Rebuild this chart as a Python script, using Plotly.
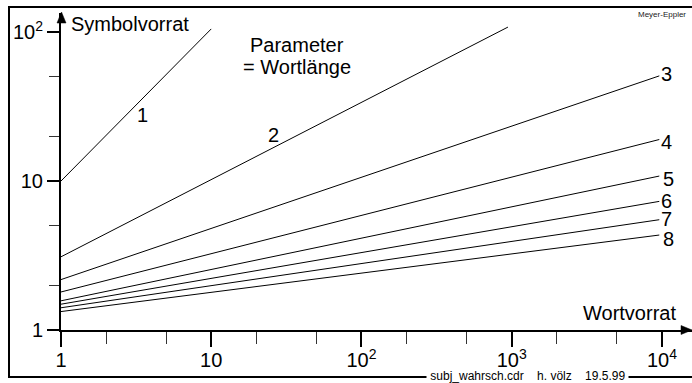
import math
import plotly.graph_objects as go

# ---- data ----
line_names = ["1", "2", "3", "4", "5", "6", "7", "8"]
wort_start = [1, 1, 1, 1, 1, 1, 1, 1]
wort_end = [10, 944, 9600, 9600, 9600, 9600, 9600, 9600]
symb_start = [10, 3.1, 2.18, 1.80, 1.57, 1.49, 1.41, 1.33]
symb_end = [105, 108, 50.8, 19.0, 10.8, 7.3, 5.5, 4.34]

# label anchor points for curve labels (data coords)
label_x = [3.5, 25.8, 10800, 10800, 11000, 10800, 10800, 11000]
label_y = [27.8, 20.4, 52.5, 18.4, 10.4, 7.33, 5.55, 4.11]

x_tickvals = [1, 10, 100, 1000, 10000]
x_ticktext = ["1", "10", "10<sup>2</sup>", "10<sup>3</sup>", "10<sup>4</sup>"]
y_tickvals = [1, 10, 100]
y_ticktext = ["1", "10", "10<sup>2</sup>"]
minor_vals = [2, 5, 20, 50, 200, 500, 2000, 5000]

FONT = "Arial, Liberation Sans, Helvetica, sans-serif"
W, H = 692, 383
L, R, T, B = 61, 0, 13, 53
PW, PH = W - L - R, H - T - B


def px(x):
    return (x - L) / PW


def py(y):
    return (H - B - y) / PH


fig = go.Figure()
for i in range(len(line_names)):
    fig.add_trace(go.Scatter(
        x=[wort_start[i], wort_end[i]], y=[symb_start[i], symb_end[i]],
        mode="lines", line=dict(color="black", width=1),
        showlegend=False, hoverinfo="skip", cliponaxis=False))

annotations = []
for i, n in enumerate(line_names):
    annotations.append(dict(x=math.log10(label_x[i]), y=math.log10(label_y[i]),
                            xref="x", yref="y", text=n, showarrow=False,
                            font=dict(family=FONT, size=20, color="black"),
                            xanchor="center", yanchor="middle"))

annotations += [
    dict(x=px(69), y=py(24), xref="paper", yref="paper", text="Symbolvorrat",
         showarrow=False, xanchor="left", yanchor="middle",
         font=dict(family=FONT, size=20, color="black")),
    dict(x=px(678), y=py(313), xref="paper", yref="paper", text="Wortvorrat",
         showarrow=False, xanchor="right", yanchor="middle",
         font=dict(family=FONT, size=20, color="black")),
    dict(x=px(297), y=py(45), xref="paper", yref="paper", text="Parameter",
         showarrow=False, xanchor="center", yanchor="middle",
         font=dict(family=FONT, size=20, color="black")),
    dict(x=px(297), y=py(67), xref="paper", yref="paper", text="= Wortlänge",
         showarrow=False, xanchor="center", yanchor="middle",
         font=dict(family=FONT, size=20, color="black")),
    dict(x=px(688), y=py(15), xref="paper", yref="paper", text="Meyer-Eppler",
         showarrow=False, xanchor="right", yanchor="middle",
         font=dict(family=FONT, size=8, color="#222")),
    dict(x=px(527), y=py(376), xref="paper", yref="paper",
         text="\u00a0subj_wahrsch.cdr\u00a0\u00a0\u00a0\u00a0h.\u00a0völz\u00a0\u00a0\u00a0\u00a019.5.99\u00a0",
         showarrow=False, xanchor="center", yanchor="middle", bgcolor="white",
         borderpad=0,
         font=dict(family=FONT, size=12, color="black")),
]

shapes = [
    # outer frame (right edge lies outside the picture)
    dict(type="rect", xref="paper", yref="paper", x0=px(9), x1=px(705),
         y0=py(377), y1=py(7), line=dict(color="black", width=2), layer="below"),
    # arrow heads
    dict(type="path", xref="paper", yref="paper",
         path=f"M {px(61.5)} {py(12)} L {px(57)} {py(23)} L {px(66)} {py(23)} Z",
         fillcolor="black", line=dict(color="black", width=0.5)),
    dict(type="path", xref="paper", yref="paper",
         path=f"M {px(692)} {py(330)} L {px(681)} {py(325.5)} L {px(681)} {py(334.5)} Z",
         fillcolor="black", line=dict(color="black", width=0.5)),
]

fig.update_layout(
    width=W, height=H,
    margin=dict(l=L, r=R, t=T, b=B),
    paper_bgcolor="white", plot_bgcolor="white",
    annotations=annotations, shapes=shapes,
    font=dict(family=FONT, size=20, color="black"),
    xaxis=dict(type="log", range=[0, 4.2], showgrid=False, zeroline=False,
               showline=True, linecolor="black", linewidth=2,
               tickmode="array", tickvals=x_tickvals, ticktext=x_ticktext,
               ticks="outside", ticklen=15, tickwidth=1.5, tickcolor="black",
               ticklabelstandoff=-4,
               tickfont=dict(family=FONT, size=20, color="black"),
               minor=dict(tickmode="array", tickvals=minor_vals, ticks="outside",
                          ticklen=12, tickwidth=1, tickcolor="#333", showgrid=False)),
    yaxis=dict(type="log", range=[0, 2.128], showgrid=False, zeroline=False,
               showline=True, linecolor="black", linewidth=2,
               tickmode="array", tickvals=y_tickvals, ticktext=y_ticktext,
               ticks="outside", ticklen=12, tickwidth=1.5, tickcolor="black",
               tickfont=dict(family=FONT, size=20, color="black"),
               minor=dict(tickmode="array", tickvals=minor_vals, ticks="outside",
                          ticklen=10, tickwidth=1, tickcolor="#333", showgrid=False)),
)

fig.write_html("out.html")
